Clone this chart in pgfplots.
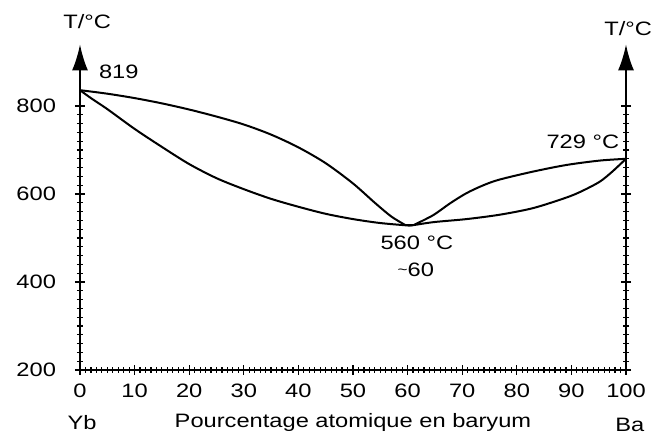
\documentclass[border=0pt]{standalone}
\usepackage{fontspec}
\setmainfont{Liberation Sans}[FakeStretch=1.22]
\usepackage{pgfplots}
\pgfplotsset{compat=1.18}
\usetikzlibrary{arrows.meta}
\begin{document}
\begin{tikzpicture}[font=\fontsize{9.7}{11}\selectfont]
\path[use as bounding box] (-40pt,-34pt) rectangle (290.5pt,185pt);
\pgfplotsset{pd/.style={scale only axis, width=273pt, height=162.8pt,
  xmin=0, xmax=100, ymin=200, ymax=940, clip=false,
  tick align=center, major tick length=5pt, minor tick length=3pt,
  every tick/.style={black, line width=0.6pt},
  /pgf/number format/assume math mode=true,
  tick label style={font=\fontsize{9.7}{11}\selectfont},
  axis line style={line width=1pt}}}
\begin{axis}[pd, axis x line*=bottom, axis y line*=left,
  x axis line style={-}, y axis line style={-{Latex[length=13pt,width=8pt]}},
  xtick={0,10,...,100}, minor x tick num=9,
  ytick={200,400,600,800}, minor y tick num=9,
  xticklabel style={yshift=-1pt}, yticklabel style={xshift=-6pt}]
\addplot[black, line width=1pt, smooth] coordinates {
(0,836)(5,828)(10,818)(15,806)(20,792)(25,776)(30,758)(35,735)(40,706)(45,670)(50,624)(54,580)(57,549)(59.5,530)};
\addplot[black, line width=1pt, smooth] coordinates {
(0,836)(2,818)(5,793)(10,748)(15,707)(20,668)(25,636)(30,611)(35,589)(40,571)(45,555)(50,543)(55,534)(60.5,528)};
\addplot[black, line width=1pt] coordinates {(59.5,530)(61.2,530)};
\addplot[black, line width=1pt, smooth] coordinates {
(61.2,530)(64.7,552)(67.8,579)(70.8,602)(73.9,620)(76.9,633)(83,651)(89.1,666)(95.2,676)(100,680)};
\addplot[black, line width=1pt, smooth] coordinates {
(60.5,528)(64.7,536)(70.8,543)(76.9,553)(83,568)(89.1,592)(92,607)(95.2,628)(97.5,651)(100,680)};
\node at (axis cs:1.3,991) {T/°C};
\node at (axis cs:100.4,977) {T/°C};
\node at (axis cs:7.1,877) {819};
\node at (axis cs:92.1,718) {729 °C};
\node at (axis cs:61.7,489) {560 °C};
\node at (axis cs:61.5,427) {\raisebox{1pt}{\fontsize{7}{8}\selectfont\textasciitilde}60};
\node at (axis cs:50,80) {Pourcentage atomique en baryum};
\node at (axis cs:0.4,80) {Yb};
\node at (axis cs:100.7,75) {Ba};
\end{axis}
\begin{axis}[pd, axis x line=none, axis y line*=right,
  y axis line style={-{Latex[length=13pt,width=8pt]}},
  ytick={200,400,600,800}, yticklabels={}, minor y tick num=9]
\end{axis}
\end{tikzpicture}
\end{document}
